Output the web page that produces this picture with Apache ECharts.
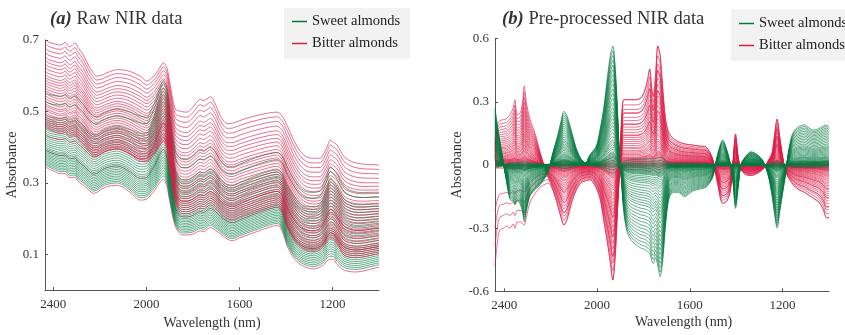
<!DOCTYPE html>
<html>
<head>
<meta charset="utf-8">
<script src="https://cdn.jsdelivr.net/npm/echarts@6/dist/echarts.min.js"></script>
<style>html,body{margin:0;padding:0;background:#fff}#c{width:845px;height:335px}</style>
</head>
<body>
<div id="c"></div>
<script>
// ---------- Panel (a): raw NIR spectra ----------
const wavelengthA = [2436,2420,2395,2371,2358,2350,2340,2328,2315,2307,2295,2271,2250,2228,2213,2190,2170,2127,2100,2070,2027,1998,1980,1962,1945,1927,1912,1898,1876,1850,1826,1800,1768,1754,1740,1725,1704,1682,1653,1630,1600,1553,1481,1438,1417,1395,1367,1338,1309,1280,1252,1235,1223,1209,1195,1180,1151,1125,1094,1060,1022,1000];
const rawRedTop = [0.702,0.694,0.689,0.686,0.689,0.694,0.686,0.681,0.688,0.692,0.680,0.658,0.630,0.608,0.599,0.602,0.608,0.617,0.616,0.612,0.599,0.585,0.592,0.603,0.620,0.636,0.622,0.576,0.507,0.500,0.498,0.512,0.534,0.530,0.535,0.541,0.521,0.488,0.466,0.467,0.474,0.484,0.495,0.498,0.488,0.461,0.420,0.388,0.372,0.369,0.369,0.385,0.401,0.420,0.413,0.406,0.374,0.362,0.355,0.352,0.351,0.350];
const rawRedBottom = [0.456,0.450,0.443,0.438,0.439,0.441,0.434,0.429,0.432,0.433,0.422,0.407,0.391,0.376,0.376,0.384,0.390,0.395,0.391,0.380,0.361,0.359,0.370,0.384,0.402,0.415,0.397,0.335,0.249,0.215,0.214,0.219,0.230,0.228,0.233,0.239,0.230,0.215,0.200,0.196,0.204,0.214,0.230,0.237,0.223,0.176,0.142,0.121,0.111,0.108,0.114,0.126,0.137,0.144,0.142,0.129,0.098,0.092,0.091,0.094,0.099,0.102];
const rawGreenTop = [0.491,0.485,0.482,0.481,0.482,0.485,0.481,0.476,0.479,0.481,0.474,0.461,0.445,0.436,0.436,0.446,0.452,0.459,0.455,0.449,0.439,0.440,0.465,0.497,0.536,0.566,0.542,0.452,0.340,0.310,0.309,0.317,0.331,0.328,0.334,0.339,0.330,0.309,0.295,0.293,0.300,0.314,0.331,0.336,0.327,0.296,0.265,0.242,0.233,0.233,0.241,0.266,0.289,0.313,0.305,0.289,0.256,0.244,0.239,0.239,0.241,0.241];
const rawGreenBottom = [0.351,0.345,0.338,0.332,0.332,0.333,0.326,0.321,0.322,0.322,0.312,0.300,0.288,0.277,0.280,0.290,0.296,0.300,0.294,0.280,0.259,0.262,0.275,0.290,0.308,0.320,0.300,0.250,0.185,0.161,0.160,0.163,0.172,0.170,0.176,0.181,0.174,0.163,0.149,0.144,0.152,0.163,0.180,0.187,0.172,0.130,0.097,0.078,0.069,0.066,0.072,0.080,0.090,0.095,0.094,0.080,0.064,0.059,0.058,0.062,0.068,0.071];
// relative position of each drawn spectrum inside its envelope
const rawRedLevels = [1,0.95,0.9,0.85,0.8,0.76,0.72,0.68,0.64,0.6,0.57,0.54,0.51,0.48,0.45,0.42,0.39,0.36,0.33,0.30,0.27,0.25,0.22,0.20,0.17,0.15,0.12,0.10,0.08,0.06,0.04,0.02,0.0];
const rawRedInGreenLevels = [-0.04,0.3,0.6];
const rawGreenLevels = [1.0,0.96,0.92,0.88,0.84,0.8,0.76,0.72,0.68,0.64,0.6,0.56,0.52,0.48,0.44,0.4,0.36,0.33,0.3,0.27,0.24,0.21,0.18,0.15,0.12,0.09,0.06,0.03,0.0];
const rawGreenHighLevels = [0.3,0.18];

// ---------- Panel (b): pre-processed spectra ----------
const wavelengthB = [2440,2430,2420,2405,2390,2375,2362,2354,2345,2330,2320,2314,2305,2290,2270,2250,2230,2210,2190,2170,2155,2143,2130,2110,2090,2070,2050,2030,2003,1985,1970,1955,1943,1932,1922,1912,1903,1895,1885,1870,1850,1830,1810,1795,1783,1773,1765,1758,1748,1738,1728,1718,1705,1690,1670,1650,1623,1590,1560,1530,1502,1480,1458,1440,1425,1413,1403,1392,1380,1360,1336,1310,1285,1262,1245,1235,1224,1212,1200,1188,1175,1160,1145,1125,1105,1085,1065,1045,1025,1010,1000];
const preGreen = [0.27,0.19,0.12,0.02,-0.08,-0.165,-0.17,-0.19,-0.17,-0.19,-0.23,-0.27,-0.22,-0.15,-0.12,-0.10,-0.07,-0.03,0.06,0.14,0.21,0.255,0.235,0.16,0.08,0.03,0.01,0.05,0.09,0.18,0.28,0.42,0.52,0.565,0.47,0.26,0.03,-0.07,-0.22,-0.32,-0.36,-0.38,-0.395,-0.40,-0.41,-0.42,-0.45,-0.467,-0.44,-0.48,-0.53,-0.47,-0.29,-0.16,-0.13,-0.13,-0.15,-0.125,-0.115,-0.105,-0.06,0.05,0.119,0.07,0.0,-0.09,-0.206,-0.11,0.0,0.04,0.063,0.05,0.02,-0.05,-0.15,-0.23,-0.30,-0.22,-0.134,-0.05,0.06,0.14,0.17,0.185,0.19,0.175,0.166,0.172,0.185,0.19,0.18];
const preRed = [0.12,0.19,0.21,0.215,0.22,0.24,0.27,0.31,0.24,0.25,0.31,0.375,0.30,0.22,0.16,0.08,0.0,-0.06,-0.12,-0.19,-0.25,-0.285,-0.26,-0.18,-0.12,-0.085,-0.075,-0.07,-0.11,-0.17,-0.27,-0.37,-0.46,-0.546,-0.44,-0.22,-0.02,0.20,0.31,0.31,0.31,0.31,0.32,0.35,0.40,0.455,0.37,0.325,0.42,0.565,0.52,0.38,0.22,0.15,0.125,0.11,0.10,0.095,0.09,0.085,0.03,-0.09,-0.182,-0.17,-0.12,0.02,0.147,0.04,-0.02,-0.045,-0.05,-0.04,-0.02,0.02,0.06,0.14,0.217,0.13,0.04,-0.03,-0.06,-0.085,-0.105,-0.12,-0.13,-0.145,-0.16,-0.175,-0.21,-0.25,-0.25];
const preRedAlt = [-0.48,-0.37,-0.31,-0.30,-0.29,-0.30,-0.28,-0.30,-0.27,-0.27,-0.28,-0.285,-0.25,-0.18,-0.14,-0.11,-0.095,-0.086,-0.12,-0.19,-0.25,-0.285,-0.26,-0.18,-0.12,-0.085,-0.075,-0.07,-0.11,-0.17,-0.27,-0.37,-0.46,-0.546,-0.44,-0.22,-0.02,0.20,0.31,0.31,0.31,0.31,0.32,0.35,0.40,0.455,0.37,0.325,0.42,0.565,0.52,0.38,0.22,0.15,0.125,0.11,0.10,0.095,0.09,0.085,0.03,-0.09,-0.182,-0.17,-0.12,0.02,0.147,0.04,-0.02,-0.045,-0.05,-0.04,-0.02,0.02,0.06,0.14,0.217,0.13,0.04,-0.03,-0.06,-0.085,-0.105,-0.12,-0.13,-0.145,-0.16,-0.175,-0.21,-0.25,-0.25];
const preRedLevels = [1.0,0.92,0.85,0.79,0.73,0.68,0.63,0.58,0.54,0.50,0.46,0.42,0.39,0.36,0.33,0.30,0.27,0.25,0.22,0.20,0.18,0.16,0.14,0.12,0.11,0.10,0.09,0.08,0.07,0.06,0.05,0.04,0.03,0.02,0.01,0.0,-0.01,-0.02,-0.04,-0.07];
const preRedAltLevels = [1.0,0.8,0.62,0.45];
const preGreenLevels = [1.0,0.96,0.92,0.88,0.84,0.8,0.76,0.72,0.68,0.64,0.6,0.56,0.52,0.48,0.45,0.42,0.39,0.36,0.33,0.3,0.27,0.24,0.21,0.19,0.17,0.15,0.13,0.11,0.1,0.09,0.08,0.07,0.06,0.05,0.04,0.03,0.02,0.01,0.0,-0.01,-0.02,-0.04,-0.07];

// ---------- ticks ----------
const xTicks = [2400,2000,1600,1200];
const yTicksA = [0.1,0.3,0.5,0.7];
const yTicksB = [-0.6,-0.3,0,0.3,0.6];

const SWEET = 'Sweet almonds', BITTER = 'Bitter almonds';
const GREEN = '#04793f', RED = '#dc1c48';
const FONT = '"Liberation Serif","DejaVu Serif",serif';

function lineSeries(name, color, data, axisIdx){
  return {
    type:'line', name, xAxisIndex:axisIdx, yAxisIndex:axisIdx, data,
    showSymbol:false, symbol:'none', smooth:0.3, silent:true, animation:false,
    itemStyle:{color}, lineStyle:{color, width:0.7, opacity:0.9}
  };
}
function blend(wl, lower, upper, k){ return wl.map((w,i)=>[w, lower[i] + k*(upper[i]-lower[i])]); }
function scaled(wl, shape, k){ return wl.map((w,i)=>[w, k*shape[i]]); }

const series = [];
// panel a: interleave classes
const redA = rawRedLevels.map(k=>lineSeries(BITTER, RED, blend(wavelengthA, rawRedBottom, rawRedTop, k), 0));
const redA2 = rawRedInGreenLevels.map(k=>lineSeries(BITTER, RED, blend(wavelengthA, rawGreenBottom, rawGreenTop, k), 0));
const greenA = rawGreenLevels.map(k=>lineSeries(SWEET, GREEN, blend(wavelengthA, rawGreenBottom, rawGreenTop, k), 0));
const greenA2 = rawGreenHighLevels.map(k=>lineSeries(SWEET, GREEN, blend(wavelengthA, rawGreenTop, rawRedTop, k), 0));
const n = Math.max(redA.length, greenA.length);
series.push(greenA2[0]);
for(let i=0;i<n;i++){ if(redA[i]) series.push(redA[i]); if(greenA[i]) series.push(greenA[i]); if(i%10===5 && redA2[(i/10)|0]) series.push(redA2[(i/10)|0]); }
series.push(greenA2[1]);
// panel b: red first, green on top
preRedLevels.forEach(k=>series.push(lineSeries(BITTER, RED, scaled(wavelengthB, preRed, k), 1)));
preRedAltLevels.forEach(k=>series.push(lineSeries(BITTER, RED, scaled(wavelengthB, preRedAlt, k), 1)));
preGreenLevels.forEach(k=>series.push(lineSeries(SWEET, GREEN, scaled(wavelengthB, preGreen, k), 1)));

const axisCommon = {
  axisLine:{onZero:false, lineStyle:{color:'#555', width:1}},
  axisTick:{inside:true, length:3, lineStyle:{color:'#555'}},
  splitLine:{show:false},
  axisLabel:{color:'#333', fontFamily:FONT, fontSize:13}
};
function xAxis(idx, max){
  return Object.assign({}, axisCommon, {
    type:'value', gridIndex:idx, min:1000, max, inverse:true,
    axisTick:Object.assign({}, axisCommon.axisTick, {customValues:xTicks}),
    axisLabel:Object.assign({}, axisCommon.axisLabel, {customValues:xTicks, margin:8, formatter:v=>String(v)})
  });
}
function yAxis(idx, min, max, ticks){
  return Object.assign({}, axisCommon, {
    type:'value', gridIndex:idx, min, max,
    name:'Absorbance', nameLocation:'middle', nameGap:25, nameRotate:90,
    nameTextStyle:{color:'#333', fontFamily:FONT, fontSize:14},
    axisTick:Object.assign({}, axisCommon.axisTick, {customValues:ticks}),
    axisLabel:Object.assign({}, axisCommon.axisLabel, {customValues:ticks, margin:6, formatter:v=>String(v)})
  });
}
const legendCommon = {
  orient:'vertical', backgroundColor:'#f2f2f2', itemGap:7, itemWidth:15, itemHeight:1.5,
  icon:'rect', data:[SWEET, BITTER], selectedMode:false,
  textStyle:{fontFamily:FONT, fontSize:14.5, color:'#222'}
};
const titleRich = {
  b:{fontStyle:'italic', fontWeight:'bold', fontSize:18.5, fontFamily:FONT, color:'#333'},
  n:{fontStyle:'normal', fontWeight:'normal', fontSize:18.5, fontFamily:FONT, color:'#333'}
};

const chart = echarts.init(document.getElementById('c'), null, {renderer:'canvas'});
chart.setOption({
  animation:false,
  backgroundColor:'#fff',
  title:[
    {text:'{b|(a)} {n|Raw NIR data}', left:45, top:5, textStyle:{fontWeight:'normal', rich:titleRich}},
    {text:'{b|(b)} {n|Pre-processed NIR data}', left:497, top:5, textStyle:{fontWeight:'normal', rich:titleRich}}
  ],
  legend:[
    Object.assign({}, legendCommon, {left:284, top:8, padding:[6,10,8,8]}),
    Object.assign({}, legendCommon, {left:731, top:9, padding:[7,10,8,8]})
  ],
  grid:[
    {left:45, right:466, top:40, bottom:41},
    {left:495, right:16, top:38.6, bottom:43.6}
  ],
  xAxis:[
    Object.assign(xAxis(0, 2436), {name:'Wavelength (nm)', nameLocation:'middle', nameGap:22, nameTextStyle:{color:'#333', fontFamily:FONT, fontSize:14}}),
    xAxis(1, 2440)
  ],
  yAxis:[ yAxis(0, 0, 0.7, yTicksA), yAxis(1, -0.6, 0.6, yTicksB) ],
  graphic:[
    {type:'text', left:635, top:315, style:{text:'Wavelength (nm)', fill:'#333', font:'14px '+FONT}}
  ],
  series
});
</script>
</body>
</html>
